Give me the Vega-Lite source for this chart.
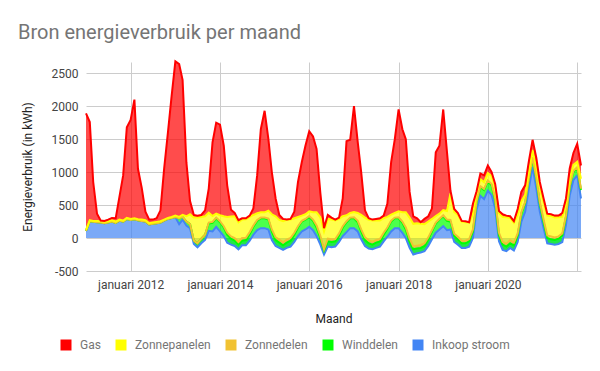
{
  "$schema": "https://vega.github.io/schema/vega-lite/v6.json",
  "width": 495,
  "height": 209,
  "autosize": {"type": "none"},
  "padding": {"left": 86, "top": 62, "right": 19, "bottom": 100},
  "background": "white",
  "config": {"font": "Roboto", "view": {"stroke": null}, "axis": {"labelOverlap": false}},
  "title": {"text": "Bron energieverbruik per maand", "anchor": "start", "frame": "group", "dx": -68, "dy": 25, "offset": 23, "fontSize": 20, "font": "Roboto", "fontWeight": "normal", "color": "#757575", "baseline": "alphabetic"},
  "data": {"values": [
    {"maand":"2011-01-01","Gas":1765,"Zonnepanelen":15,"Zonnedelen":0,"Winddelen":0,"Inkoop stroom":110},
    {"maand":"2011-02-01","Gas":1490,"Zonnepanelen":15,"Zonnedelen":0,"Winddelen":0,"Inkoop stroom":255},
    {"maand":"2011-03-01","Gas":590,"Zonnepanelen":15,"Zonnedelen":0,"Winddelen":0,"Inkoop stroom":245},
    {"maand":"2011-04-01","Gas":110,"Zonnepanelen":20,"Zonnedelen":0,"Winddelen":0,"Inkoop stroom":240},
    {"maand":"2011-05-01","Gas":10,"Zonnepanelen":20,"Zonnedelen":0,"Winddelen":0,"Inkoop stroom":235},
    {"maand":"2011-06-01","Gas":15,"Zonnepanelen":20,"Zonnedelen":0,"Winddelen":0,"Inkoop stroom":225},
    {"maand":"2011-07-01","Gas":25,"Zonnepanelen":20,"Zonnedelen":0,"Winddelen":0,"Inkoop stroom":235},
    {"maand":"2011-08-01","Gas":35,"Zonnepanelen":20,"Zonnedelen":0,"Winddelen":0,"Inkoop stroom":250},
    {"maand":"2011-09-01","Gas":50,"Zonnepanelen":20,"Zonnedelen":0,"Winddelen":0,"Inkoop stroom":230},
    {"maand":"2011-10-01","Gas":340,"Zonnepanelen":15,"Zonnedelen":0,"Winddelen":0,"Inkoop stroom":265},
    {"maand":"2011-11-01","Gas":685,"Zonnepanelen":15,"Zonnedelen":0,"Winddelen":0,"Inkoop stroom":250},
    {"maand":"2011-12-01","Gas":1375,"Zonnepanelen":15,"Zonnedelen":0,"Winddelen":0,"Inkoop stroom":290},
    {"maand":"2012-01-01","Gas":1500,"Zonnepanelen":15,"Zonnedelen":0,"Winddelen":0,"Inkoop stroom":275},
    {"maand":"2012-02-01","Gas":1800,"Zonnepanelen":15,"Zonnedelen":0,"Winddelen":0,"Inkoop stroom":285},
    {"maand":"2012-03-01","Gas":765,"Zonnepanelen":15,"Zonnedelen":0,"Winddelen":0,"Inkoop stroom":270},
    {"maand":"2012-04-01","Gas":480,"Zonnepanelen":20,"Zonnedelen":0,"Winddelen":0,"Inkoop stroom":260},
    {"maand":"2012-05-01","Gas":130,"Zonnepanelen":20,"Zonnedelen":0,"Winddelen":0,"Inkoop stroom":250},
    {"maand":"2012-06-01","Gas":55,"Zonnepanelen":20,"Zonnedelen":0,"Winddelen":0,"Inkoop stroom":205},
    {"maand":"2012-07-01","Gas":45,"Zonnepanelen":20,"Zonnedelen":0,"Winddelen":0,"Inkoop stroom":215},
    {"maand":"2012-08-01","Gas":55,"Zonnepanelen":20,"Zonnedelen":0,"Winddelen":0,"Inkoop stroom":225},
    {"maand":"2012-09-01","Gas":165,"Zonnepanelen":20,"Zonnedelen":0,"Winddelen":0,"Inkoop stroom":235},
    {"maand":"2012-10-01","Gas":770,"Zonnepanelen":15,"Zonnedelen":0,"Winddelen":0,"Inkoop stroom":265},
    {"maand":"2012-11-01","Gas":1295,"Zonnepanelen":15,"Zonnedelen":0,"Winddelen":0,"Inkoop stroom":290},
    {"maand":"2012-12-01","Gas":1830,"Zonnepanelen":15,"Zonnedelen":0,"Winddelen":0,"Inkoop stroom":305},
    {"maand":"2013-01-01","Gas":2340,"Zonnepanelen":20,"Zonnedelen":0,"Winddelen":0,"Inkoop stroom":320},
    {"maand":"2013-02-01","Gas":2320,"Zonnepanelen":20,"Zonnedelen":0,"Winddelen":90,"Inkoop stroom":210},
    {"maand":"2013-03-01","Gas":2050,"Zonnepanelen":30,"Zonnedelen":0,"Winddelen":40,"Inkoop stroom":280},
    {"maand":"2013-04-01","Gas":820,"Zonnepanelen":80,"Zonnedelen":0,"Winddelen":60,"Inkoop stroom":190},
    {"maand":"2013-05-01","Gas":200,"Zonnepanelen":150,"Zonnedelen":0,"Winddelen":60,"Inkoop stroom":150},
    {"maand":"2013-06-01","Gas":40,"Zonnepanelen":350,"Zonnedelen":0,"Winddelen":50,"Inkoop stroom":-90},
    {"maand":"2013-07-01","Gas":30,"Zonnepanelen":390,"Zonnedelen":0,"Winddelen":60,"Inkoop stroom":-140},
    {"maand":"2013-08-01","Gas":30,"Zonnepanelen":330,"Zonnedelen":0,"Winddelen":70,"Inkoop stroom":-80},
    {"maand":"2013-09-01","Gas":90,"Zonnepanelen":280,"Zonnedelen":0,"Winddelen":80,"Inkoop stroom":-30},
    {"maand":"2013-10-01","Gas":365,"Zonnepanelen":150,"Zonnedelen":15,"Winddelen":110,"Inkoop stroom":110},
    {"maand":"2013-11-01","Gas":1115,"Zonnepanelen":90,"Zonnedelen":15,"Winddelen":130,"Inkoop stroom":100},
    {"maand":"2013-12-01","Gas":1380,"Zonnepanelen":60,"Zonnedelen":10,"Winddelen":130,"Inkoop stroom":170},
    {"maand":"2014-01-01","Gas":1375,"Zonnepanelen":90,"Zonnedelen":15,"Winddelen":140,"Inkoop stroom":100},
    {"maand":"2014-02-01","Gas":1070,"Zonnepanelen":150,"Zonnedelen":20,"Winddelen":130,"Inkoop stroom":30},
    {"maand":"2014-03-01","Gas":480,"Zonnepanelen":240,"Zonnedelen":30,"Winddelen":120,"Inkoop stroom":-70},
    {"maand":"2014-04-01","Gas":105,"Zonnepanelen":300,"Zonnedelen":35,"Winddelen":90,"Inkoop stroom":-100},
    {"maand":"2014-05-01","Gas":50,"Zonnepanelen":330,"Zonnedelen":40,"Winddelen":80,"Inkoop stroom":-120},
    {"maand":"2014-06-01","Gas":30,"Zonnepanelen":300,"Zonnedelen":40,"Winddelen":70,"Inkoop stroom":-170},
    {"maand":"2014-07-01","Gas":20,"Zonnepanelen":280,"Zonnedelen":40,"Winddelen":70,"Inkoop stroom":-110},
    {"maand":"2014-08-01","Gas":15,"Zonnepanelen":280,"Zonnedelen":35,"Winddelen":80,"Inkoop stroom":-110},
    {"maand":"2014-09-01","Gas":20,"Zonnepanelen":230,"Zonnedelen":30,"Winddelen":100,"Inkoop stroom":-40},
    {"maand":"2014-10-01","Gas":100,"Zonnepanelen":160,"Zonnedelen":20,"Winddelen":120,"Inkoop stroom":50},
    {"maand":"2014-11-01","Gas":575,"Zonnepanelen":100,"Zonnedelen":15,"Winddelen":140,"Inkoop stroom":120},
    {"maand":"2014-12-01","Gas":1260,"Zonnepanelen":80,"Zonnedelen":10,"Winddelen":150,"Inkoop stroom":150},
    {"maand":"2015-01-01","Gas":1540,"Zonnepanelen":80,"Zonnedelen":10,"Winddelen":150,"Inkoop stroom":150},
    {"maand":"2015-02-01","Gas":1085,"Zonnepanelen":120,"Zonnedelen":15,"Winddelen":150,"Inkoop stroom":130},
    {"maand":"2015-03-01","Gas":640,"Zonnepanelen":230,"Zonnedelen":30,"Winddelen":130,"Inkoop stroom":-30},
    {"maand":"2015-04-01","Gas":270,"Zonnepanelen":320,"Zonnedelen":40,"Winddelen":90,"Inkoop stroom":-120},
    {"maand":"2015-05-01","Gas":75,"Zonnepanelen":300,"Zonnedelen":45,"Winddelen":80,"Inkoop stroom":-150},
    {"maand":"2015-06-01","Gas":35,"Zonnepanelen":320,"Zonnedelen":45,"Winddelen":70,"Inkoop stroom":-180},
    {"maand":"2015-07-01","Gas":5,"Zonnepanelen":300,"Zonnedelen":45,"Winddelen":80,"Inkoop stroom":-150},
    {"maand":"2015-08-01","Gas":10,"Zonnepanelen":280,"Zonnedelen":40,"Winddelen":90,"Inkoop stroom":-130},
    {"maand":"2015-09-01","Gas":100,"Zonnepanelen":220,"Zonnedelen":30,"Winddelen":110,"Inkoop stroom":-60},
    {"maand":"2015-10-01","Gas":530,"Zonnepanelen":140,"Zonnedelen":20,"Winddelen":130,"Inkoop stroom":30},
    {"maand":"2015-11-01","Gas":810,"Zonnepanelen":80,"Zonnedelen":10,"Winddelen":150,"Inkoop stroom":100},
    {"maand":"2015-12-01","Gas":1040,"Zonnepanelen":70,"Zonnedelen":10,"Winddelen":150,"Inkoop stroom":130},
    {"maand":"2016-01-01","Gas":1215,"Zonnepanelen":70,"Zonnedelen":15,"Winddelen":150,"Inkoop stroom":170},
    {"maand":"2016-02-01","Gas":1150,"Zonnepanelen":110,"Zonnedelen":20,"Winddelen":140,"Inkoop stroom":120},
    {"maand":"2016-03-01","Gas":960,"Zonnepanelen":200,"Zonnedelen":30,"Winddelen":130,"Inkoop stroom":30},
    {"maand":"2016-04-01","Gas":365,"Zonnepanelen":280,"Zonnedelen":35,"Winddelen":100,"Inkoop stroom":-100},
    {"maand":"2016-05-01","Gas":50,"Zonnepanelen":270,"Zonnedelen":20,"Winddelen":60,"Inkoop stroom":-250},
    {"maand":"2016-06-01","Gas":60,"Zonnepanelen":300,"Zonnedelen":40,"Winddelen":80,"Inkoop stroom":-130},
    {"maand":"2016-07-01","Gas":30,"Zonnepanelen":300,"Zonnedelen":40,"Winddelen":80,"Inkoop stroom":-140},
    {"maand":"2016-08-01","Gas":15,"Zonnepanelen":280,"Zonnedelen":35,"Winddelen":80,"Inkoop stroom":-130},
    {"maand":"2016-09-01","Gas":20,"Zonnepanelen":220,"Zonnedelen":30,"Winddelen":100,"Inkoop stroom":-60},
    {"maand":"2016-10-01","Gas":270,"Zonnepanelen":150,"Zonnedelen":20,"Winddelen":130,"Inkoop stroom":30},
    {"maand":"2016-11-01","Gas":1125,"Zonnepanelen":90,"Zonnedelen":15,"Winddelen":150,"Inkoop stroom":90},
    {"maand":"2016-12-01","Gas":1110,"Zonnepanelen":70,"Zonnedelen":10,"Winddelen":150,"Inkoop stroom":150},
    {"maand":"2017-01-01","Gas":1605,"Zonnepanelen":80,"Zonnedelen":15,"Winddelen":150,"Inkoop stroom":150},
    {"maand":"2017-02-01","Gas":1070,"Zonnepanelen":120,"Zonnedelen":20,"Winddelen":140,"Inkoop stroom":100},
    {"maand":"2017-03-01","Gas":650,"Zonnepanelen":220,"Zonnedelen":30,"Winddelen":120,"Inkoop stroom":-20},
    {"maand":"2017-04-01","Gas":110,"Zonnepanelen":300,"Zonnedelen":40,"Winddelen":90,"Inkoop stroom":-120},
    {"maand":"2017-05-01","Gas":25,"Zonnepanelen":310,"Zonnedelen":45,"Winddelen":80,"Inkoop stroom":-160},
    {"maand":"2017-06-01","Gas":15,"Zonnepanelen":320,"Zonnedelen":45,"Winddelen":70,"Inkoop stroom":-170},
    {"maand":"2017-07-01","Gas":20,"Zonnepanelen":300,"Zonnedelen":40,"Winddelen":80,"Inkoop stroom":-150},
    {"maand":"2017-08-01","Gas":35,"Zonnepanelen":280,"Zonnedelen":35,"Winddelen":80,"Inkoop stroom":-130},
    {"maand":"2017-09-01","Gas":40,"Zonnepanelen":220,"Zonnedelen":30,"Winddelen":100,"Inkoop stroom":-50},
    {"maand":"2017-10-01","Gas":200,"Zonnepanelen":160,"Zonnedelen":20,"Winddelen":120,"Inkoop stroom":20},
    {"maand":"2017-11-01","Gas":795,"Zonnepanelen":90,"Zonnedelen":15,"Winddelen":150,"Inkoop stroom":100},
    {"maand":"2017-12-01","Gas":1120,"Zonnepanelen":70,"Zonnedelen":10,"Winddelen":150,"Inkoop stroom":150},
    {"maand":"2018-01-01","Gas":1545,"Zonnepanelen":90,"Zonnedelen":15,"Winddelen":150,"Inkoop stroom":150},
    {"maand":"2018-02-01","Gas":1260,"Zonnepanelen":140,"Zonnedelen":20,"Winddelen":150,"Inkoop stroom":80},
    {"maand":"2018-03-01","Gas":1110,"Zonnepanelen":230,"Zonnedelen":30,"Winddelen":130,"Inkoop stroom":0},
    {"maand":"2018-04-01","Gas":390,"Zonnepanelen":320,"Zonnedelen":40,"Winddelen":100,"Inkoop stroom":-150},
    {"maand":"2018-05-01","Gas":115,"Zonnepanelen":340,"Zonnedelen":45,"Winddelen":80,"Inkoop stroom":-250},
    {"maand":"2018-06-01","Gas":75,"Zonnepanelen":340,"Zonnedelen":45,"Winddelen":70,"Inkoop stroom":-230},
    {"maand":"2018-07-01","Gas":25,"Zonnepanelen":320,"Zonnedelen":45,"Winddelen":70,"Inkoop stroom":-220},
    {"maand":"2018-08-01","Gas":80,"Zonnepanelen":290,"Zonnedelen":40,"Winddelen":80,"Inkoop stroom":-200},
    {"maand":"2018-09-01","Gas":80,"Zonnepanelen":240,"Zonnedelen":30,"Winddelen":100,"Inkoop stroom":-120},
    {"maand":"2018-10-01","Gas":160,"Zonnepanelen":170,"Zonnedelen":20,"Winddelen":120,"Inkoop stroom":-20},
    {"maand":"2018-11-01","Gas":965,"Zonnepanelen":100,"Zonnedelen":15,"Winddelen":140,"Inkoop stroom":80},
    {"maand":"2018-12-01","Gas":1030,"Zonnepanelen":80,"Zonnedelen":10,"Winddelen":150,"Inkoop stroom":130},
    {"maand":"2019-01-01","Gas":1525,"Zonnepanelen":80,"Zonnedelen":15,"Winddelen":150,"Inkoop stroom":180},
    {"maand":"2019-02-01","Gas":890,"Zonnepanelen":130,"Zonnedelen":20,"Winddelen":140,"Inkoop stroom":120},
    {"maand":"2019-03-01","Gas":45,"Zonnepanelen":400,"Zonnedelen":25,"Winddelen":120,"Inkoop stroom":130},
    {"maand":"2019-04-01","Gas":45,"Zonnepanelen":330,"Zonnedelen":35,"Winddelen":90,"Inkoop stroom":-60},
    {"maand":"2019-05-01","Gas":30,"Zonnepanelen":330,"Zonnedelen":40,"Winddelen":80,"Inkoop stroom":-100},
    {"maand":"2019-06-01","Gas":10,"Zonnepanelen":290,"Zonnedelen":40,"Winddelen":70,"Inkoop stroom":-150},
    {"maand":"2019-07-01","Gas":15,"Zonnepanelen":280,"Zonnedelen":40,"Winddelen":70,"Inkoop stroom":-150},
    {"maand":"2019-08-01","Gas":5,"Zonnepanelen":250,"Zonnedelen":35,"Winddelen":80,"Inkoop stroom":-130},
    {"maand":"2019-09-01","Gas":160,"Zonnepanelen":230,"Zonnedelen":30,"Winddelen":100,"Inkoop stroom":0},
    {"maand":"2019-10-01","Gas":30,"Zonnepanelen":120,"Zonnedelen":20,"Winddelen":110,"Inkoop stroom":430},
    {"maand":"2019-11-01","Gas":85,"Zonnepanelen":110,"Zonnedelen":15,"Winddelen":130,"Inkoop stroom":640},
    {"maand":"2019-12-01","Gas":105,"Zonnepanelen":100,"Zonnedelen":15,"Winddelen":140,"Inkoop stroom":590},
    {"maand":"2020-01-01","Gas":115,"Zonnepanelen":110,"Zonnedelen":15,"Winddelen":140,"Inkoop stroom":720},
    {"maand":"2020-02-01","Gas":60,"Zonnepanelen":120,"Zonnedelen":20,"Winddelen":150,"Inkoop stroom":650},
    {"maand":"2020-03-01","Gas":50,"Zonnepanelen":170,"Zonnedelen":30,"Winddelen":120,"Inkoop stroom":450},
    {"maand":"2020-04-01","Gas":30,"Zonnepanelen":300,"Zonnedelen":40,"Winddelen":90,"Inkoop stroom":-50},
    {"maand":"2020-05-01","Gas":40,"Zonnepanelen":380,"Zonnedelen":40,"Winddelen":80,"Inkoop stroom":-180},
    {"maand":"2020-06-01","Gas":25,"Zonnepanelen":400,"Zonnedelen":45,"Winddelen":70,"Inkoop stroom":-200},
    {"maand":"2020-07-01","Gas":25,"Zonnepanelen":340,"Zonnedelen":45,"Winddelen":70,"Inkoop stroom":-150},
    {"maand":"2020-08-01","Gas":25,"Zonnepanelen":300,"Zonnedelen":40,"Winddelen":80,"Inkoop stroom":-190},
    {"maand":"2020-09-01","Gas":90,"Zonnepanelen":280,"Zonnedelen":30,"Winddelen":100,"Inkoop stroom":-60},
    {"maand":"2020-10-01","Gas":140,"Zonnepanelen":170,"Zonnedelen":20,"Winddelen":120,"Inkoop stroom":250},
    {"maand":"2020-11-01","Gas":145,"Zonnepanelen":110,"Zonnedelen":15,"Winddelen":130,"Inkoop stroom":400},
    {"maand":"2020-12-01","Gas":160,"Zonnepanelen":100,"Zonnedelen":10,"Winddelen":140,"Inkoop stroom":750},
    {"maand":"2021-01-01","Gas":155,"Zonnepanelen":110,"Zonnedelen":15,"Winddelen":130,"Inkoop stroom":1080},
    {"maand":"2021-02-01","Gas":150,"Zonnepanelen":150,"Zonnedelen":20,"Winddelen":140,"Inkoop stroom":750},
    {"maand":"2021-03-01","Gas":90,"Zonnepanelen":210,"Zonnedelen":30,"Winddelen":120,"Inkoop stroom":400},
    {"maand":"2021-04-01","Gas":50,"Zonnepanelen":270,"Zonnedelen":40,"Winddelen":90,"Inkoop stroom":150},
    {"maand":"2021-05-01","Gas":30,"Zonnepanelen":300,"Zonnedelen":40,"Winddelen":80,"Inkoop stroom":-80},
    {"maand":"2021-06-01","Gas":25,"Zonnepanelen":310,"Zonnedelen":45,"Winddelen":70,"Inkoop stroom":-90},
    {"maand":"2021-07-01","Gas":30,"Zonnepanelen":300,"Zonnedelen":40,"Winddelen":70,"Inkoop stroom":-100},
    {"maand":"2021-08-01","Gas":25,"Zonnepanelen":290,"Zonnedelen":35,"Winddelen":80,"Inkoop stroom":-90},
    {"maand":"2021-09-01","Gas":60,"Zonnepanelen":250,"Zonnedelen":30,"Winddelen":100,"Inkoop stroom":-60},
    {"maand":"2021-10-01","Gas":100,"Zonnepanelen":160,"Zonnedelen":20,"Winddelen":120,"Inkoop stroom":200},
    {"maand":"2021-11-01","Gas":165,"Zonnepanelen":100,"Zonnedelen":15,"Winddelen":130,"Inkoop stroom":650},
    {"maand":"2021-12-01","Gas":180,"Zonnepanelen":90,"Zonnedelen":10,"Winddelen":130,"Inkoop stroom":880},
    {"maand":"2022-01-01","Gas":275,"Zonnepanelen":80,"Zonnedelen":15,"Winddelen":110,"Inkoop stroom":950},
    {"maand":"2022-02-01","Gas":200,"Zonnepanelen":150,"Zonnedelen":20,"Winddelen":130,"Inkoop stroom":600}
  ]},
  "transform": [
    {"fold": ["Inkoop stroom", "Winddelen", "Zonnedelen", "Zonnepanelen", "Gas"], "as": ["serie", "kwh"]},
    {"calculate": "indexof(['Inkoop stroom','Winddelen','Zonnedelen','Zonnepanelen','Gas'], datum.serie)", "as": "volgorde"},
    {"window": [{"op": "sum", "field": "kwh", "as": "boven"}], "groupby": ["maand"], "sort": [{"field": "volgorde", "order": "ascending"}], "frame": [null, 0]},
    {"calculate": "datum.boven - datum.kwh", "as": "onder"}
  ],
  "encoding": {
    "x": {
      "field": "maand", "type": "temporal",
      "scale": {"type": "utc", "domain": [{"year": 2011, "month": 1, "date": 1, "utc": true}, {"year": 2022, "month": 2, "date": 1, "utc": true}]},
      "axis": {
        "title": "Maand",
        "values": [
          {"year": 2012, "month": 1, "date": 1, "utc": true},
          {"year": 2014, "month": 1, "date": 1, "utc": true},
          {"year": 2016, "month": 1, "date": 1, "utc": true},
          {"year": 2018, "month": 1, "date": 1, "utc": true},
          {"year": 2020, "month": 1, "date": 1, "utc": true},
          {"year": 2022, "month": 1, "date": 1, "utc": true}
        ],
        "labelExpr": "utcFormat(datum.value, '%Y') == '2022' ? '' : 'januari ' + utcFormat(datum.value, '%Y')",
        "labelOverlap": false,
        "grid": true, "gridColor": "#cccccc", "domain": false, "ticks": false,
        "labelPadding": 8, "labelFontSize": 12, "labelColor": "#444444", "labelFont": "Roboto",
        "titleFontSize": 12, "titleColor": "#222222", "titleFontWeight": "normal", "titleFont": "Roboto",
        "titleY": 47, "titleBaseline": "middle"
      }
    },
    "y": {
      "field": "boven", "type": "quantitative", "stack": null,
      "scale": {"domain": [-500, 2670], "nice": false, "zero": false},
      "axis": {
        "title": "Energieverbruik (in kWh)",
        "values": [-500, 0, 500, 1000, 1500, 2000, 2500],
        "labelExpr": "'' + datum.value",
        "labelOverlap": false,
        "gridColor": "#cccccc", "domain": false, "ticks": false,
        "labelPadding": 8, "labelFontSize": 12, "labelColor": "#444444", "labelFont": "Roboto",
        "titleFontSize": 12, "titleColor": "#222222", "titleFontWeight": "normal", "titleFont": "Roboto",
        "titleX": -59, "titleY": 104.5, "titleAngle": -90, "titleAlign": "center", "titleBaseline": "middle"
      }
    }
  },
  "layer": [
    {
      "mark": {"type": "area", "fillOpacity": 0.7, "interpolate": "linear"},
      "encoding": {
        "y2": {"field": "onder"},
        "color": {
          "field": "serie", "type": "nominal",
          "scale": {"domain": ["Gas", "Zonnepanelen", "Zonnedelen", "Winddelen", "Inkoop stroom"], "range": ["#ff0000", "#ffff00", "#f1c232", "#00ff00", "#4285f4"]},
          "legend": {
            "title": null, "orient": "none", "legendX": -26, "legendY": 277,
            "direction": "horizontal", "columns": 5,
            "symbolType": "square", "symbolSize": 121, "symbolOpacity": 1, "symbolStrokeWidth": 0,
            "labelFontSize": 12, "labelColor": "#757575", "labelFont": "Roboto", "labelOffset": 8, "columnPadding": 14
          }
        }
      }
    },
    {
      "mark": {"type": "rule", "color": "#333333", "strokeWidth": 1},
      "encoding": {"y": {"datum": 0}}
    },
    {
      "mark": {"type": "line", "strokeWidth": 2, "interpolate": "linear"},
      "encoding": {
        "stroke": {
          "field": "serie", "type": "nominal",
          "scale": {"domain": ["Gas", "Zonnepanelen", "Zonnedelen", "Winddelen", "Inkoop stroom"], "range": ["#ff0000", "#ffff00", "#f1c232", "#00ff00", "#4285f4"]},
          "legend": null
        }
      }
    }
  ]
}
